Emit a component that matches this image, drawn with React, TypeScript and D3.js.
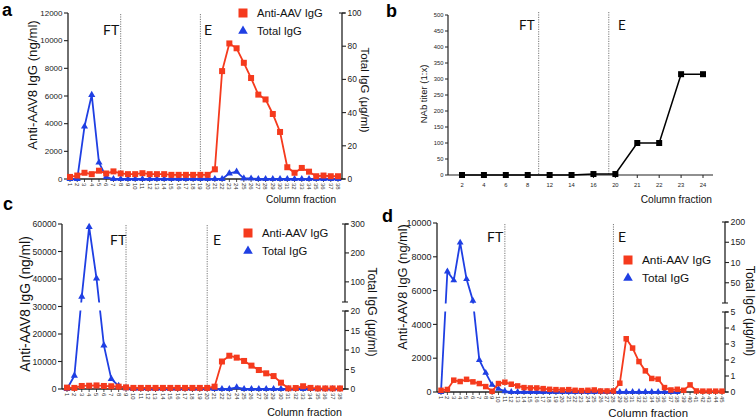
import React from "react";
import * as d3 from "d3";

// ---------- DATA ----------
// Panel a (fractions 1..38)
const antiA = [150, 250, 450, 350, 600, 400, 550, 400, 350, 350, 420, 350, 350, 350, 300, 300, 300, 300, 300, 300,
  700, 7800, 9800, 9450, 8400, 7300, 6100, 5750, 4700, 3400, 850, 450, 800, 530, 200, 250, 200, 200];
const totalA = [0, 0, 31.6, 50.7, 9.9, 1.2, 0, 0, 0, 0, 0, 0, 0, 0, 0, 0, 0, 0, 0, 0,
  0, 0, 3.4, 4.4, 0.4, 0.3, 0, 0, 0, 0, 0, 0, 0, 0, 0, 0, 0, 0];
const leftTicksA = [0, 2000, 4000, 6000, 8000, 10000, 12000];
const rightTicksA = [0, 20, 40, 60, 80, 100];
const dividersA = [8, 19];

// Panel b
const fractionsB = ["2", "4", "6", "8", "12", "14", "16", "20", "21", "22", "23", "24"];
const nabB = [0, 0, 0, 0, 0, 0, 3, 3, 100, 100, 315, 315];
const ticksB = [0, 50, 100, 150, 200, 250, 300, 350, 400, 450, 500];
const dividersB = [3.5, 6.7];

// Panel c (fractions 1..38)
const antiC = [500, 400, 1100, 1200, 1300, 1100, 1000, 850, 600, 400, 400, 400, 400, 400, 400, 400, 400, 400, 400, 400,
  850, 10000, 12100, 11400, 10200, 8500, 6900, 5700, 4700, 2300, 250, 350, 1000, 400, 200, 200, 200, 200];
const totalC = [0, 3.4, 49, 290, 112, 11.2, 2.6, 0.8, 0.2, 0, 0, 0, 0, 0, 0, 0, 0, 0, 0, 0,
  0, 0, 0, 0.4, 0, 0, 0, 0, 0, 0, 0, 0, 0, 0, 0, 0, 0, 0];
const leftTicksC = [0, 10000, 20000, 30000, 40000, 50000, 60000];
const rightTicksC = [0, 5, 10, 15, 20, 100, 200, 300];
const rightLabelsC = ["0", "5", "10", "15", "20", "100", "200", "300"];
const dividersC = [9, 20];

// Panel d (fractions 1..45, total IgG 1..38)
const antiD = [100, 150, 700, 620, 750, 600, 500, 320, 40, 500,
  580, 460, 360, 260, 240, 240, 200, 160, 140, 120,
  140, 100, 80, 100, 120, 60, 60, 60, 520, 3150,
  2600, 1800, 1250, 800, 760, 260, 120, 160, 100, 420,
  60, 50, 50, 50, 50];
const totalD = [0, 78, 56, 149, 59, 5.5, 2, 1.2, 0.45, 0.2, 0.05, 0, 0, 0, 0, 0, 0, 0, 0, 0,
  0, 0, 0, 0, 0, 0, 0, 0, 0, 0, 0, 0, 0, 0, 0, 0, 0, 0];
const leftTicksD = [0, 2000, 4000, 6000, 8000, 10000];
const rightTicksD = [0, 1, 2, 3, 4, 5, 50, 100, 150, 200];
const rightLabelsD = ["0", "1", "2", "3", "4", "5", "50", "10", "150", "200"];
const dividersD = [11, 28];

// ---------- STYLE ----------
const RED = "#f53a1d";
const BLUE = "#1f3fe3";
const AX = "#222";
const FONT = "'Liberation Sans', Arial, sans-serif";
const FT_FONT = "Lato, 'Open Sans', sans-serif";

type Cfg = {
  id: string;
  letter: string;
  letterPos: [number, number];
  left: number; right: number; top: number; bottom: number;
  xFirst: number; xLast: number;
  anti: number[]; total: number[];
  leftTicks: number[]; leftFont: number;
  rightDomain: number[]; rightRange: number[];
  rightTicks: number[]; rightLabels: string[]; rightFont: number;
  segments: [number, number][];
  gap?: [number, number];
  dividers: number[];
  ftX: number; eX: number; labelY: number;
  legX: number; legY: number; legFont: number;
  yLabelX: number; yLabelY: number; yLabelFont: number;
  rLabelX: number; rLabelY: number; rLabelFont: number;
  cfX: number; cfY: number; cfFont: number;
  sq: number; tri: number;
};

function DualPanel({ c }: { c: Cfg }) {
  const n = c.anti.length;
  const x = d3.scaleLinear().domain([1, n]).range([c.xFirst, c.xLast]);
  const yL = d3.scaleLinear().domain([0, c.leftTicks[c.leftTicks.length - 1]]).range([c.bottom, c.top]);
  const yR = d3.scaleLinear().domain(c.rightDomain).range(c.rightRange);
  const lineR = d3.line<number>().x((_, i) => x(i + 1)).y((d) => yL(d));
  const lineB = d3.line<number>().x((_, i) => x(i + 1)).y((d) => yR(d));
  const triPath = d3.symbol(d3.symbolTriangle, c.tri)() as string;
  const legTri = d3.symbol(d3.symbolTriangle, 40)() as string;
  const fr = d3.range(1, n + 1);
  const clipId = `clip-${c.id}`;
  return (
    <g>
      <defs>
        <clipPath id={clipId}>
          {c.gap ? (
            <>
              <rect x={0} y={0} width={756} height={c.gap[0]} />
              <rect x={0} y={c.gap[1]} width={756} height={419 - c.gap[1]} />
            </>
          ) : (
            <rect x={0} y={0} width={756} height={419} />
          )}
        </clipPath>
      </defs>
      <text x={c.letterPos[0]} y={c.letterPos[1]} fontFamily={FONT} fontWeight="bold" fontSize={18} fill="#000">{c.letter}</text>
      {/* dividers */}
      {c.dividers.map((d, i) => (
        <line key={i} x1={x(d)} x2={x(d)} y1={c.top + 1} y2={c.bottom} stroke="#555" strokeWidth={0.8} strokeDasharray="1.2 1.2" />
      ))}
      <text x={c.ftX} y={c.labelY} fontFamily={FT_FONT} fontSize={14} fill="#111">FT</text>
      <text x={c.eX} y={c.labelY} fontFamily={FT_FONT} fontSize={14} fill="#111">E</text>
      {/* left axis */}
      <line x1={c.left} x2={c.left} y1={c.top} y2={c.bottom} stroke={AX} strokeWidth={1.3} />
      {c.leftTicks.map((t) => (
        <g key={t}>
          <line x1={c.left - 4} x2={c.left} y1={yL(t)} y2={yL(t)} stroke={AX} strokeWidth={1.1} />
          <text x={c.left - 5.5} y={yL(t)} dy="0.35em" textAnchor="end" fontFamily={FONT} fontSize={c.leftFont} fill="#222">{t}</text>
        </g>
      ))}
      {/* right axis */}
      {c.segments.map((s, i) => (
        <g key={i}>
          <line x1={c.right} x2={c.right} y1={s[0]} y2={s[1]} stroke={AX} strokeWidth={1.3} />
          <line x1={c.right - 3} x2={c.right + 3} y1={s[0]} y2={s[0]} stroke={AX} strokeWidth={1.1} />
          <line x1={c.right - 3} x2={c.right + 3} y1={s[1]} y2={s[1]} stroke={AX} strokeWidth={1.1} />
        </g>
      ))}
      {c.rightTicks.map((t, i) => (
        <g key={i}>
          <line x1={c.right} x2={c.right + 4} y1={yR(t)} y2={yR(t)} stroke={AX} strokeWidth={1.1} />
          <text x={c.right + 5.5} y={yR(t)} dy="0.35em" fontFamily={FONT} fontSize={c.rightFont} fill="#222">{c.rightLabels[i]}</text>
        </g>
      ))}
      {/* x axis */}
      <line x1={c.left} x2={c.right} y1={c.bottom} y2={c.bottom} stroke={AX} strokeWidth={1.3} />
      {fr.map((f) => (
        <g key={f}>
          <line x1={x(f)} x2={x(f)} y1={c.bottom} y2={c.bottom + 3} stroke={AX} strokeWidth={0.8} />
          <text transform={`translate(${x(f)},${c.bottom + 4}) rotate(90)`} dy="0.35em" fontFamily={FONT} fontSize={6} fill="#333">{f}</text>
        </g>
      ))}
      {/* total IgG (blue) */}
      <path d={lineB(c.total) as string} fill="none" stroke={BLUE} strokeWidth={1.8} clipPath={`url(#${clipId})`} />
      {c.total.map((v, i) => (
        <path key={i} d={triPath} transform={`translate(${x(i + 1)},${yR(v)})`} fill={BLUE} />
      ))}
      {/* anti-AAV IgG (red) */}
      <path d={lineR(c.anti) as string} fill="none" stroke={RED} strokeWidth={1.8} />
      {c.anti.map((v, i) => (
        <rect key={i} x={x(i + 1) - c.sq / 2} y={yL(v) - c.sq / 2} width={c.sq} height={c.sq} fill={RED} />
      ))}
      {/* legend */}
      <rect x={c.legX - 4.5} y={c.legY - 4.5} width={9} height={9} fill={RED} />
      <text x={c.legX + 14} y={c.legY} dy="0.36em" fontFamily={FONT} fontSize={c.legFont} fill="#111">Anti-AAV IgG</text>
      <path d={legTri} transform={`translate(${c.legX},${c.legY + 18})`} fill={BLUE} />
      <text x={c.legX + 14} y={c.legY + 18} dy="0.36em" fontFamily={FONT} fontSize={c.legFont} fill="#111">Total IgG</text>
      {/* axis titles */}
      <text transform={`translate(${c.yLabelX},${c.yLabelY}) rotate(-90)`} textAnchor="middle" fontFamily={FONT} fontSize={c.yLabelFont} fill="#111">Anti-AAV8 IgG (ng/ml)</text>
      <text transform={`translate(${c.rLabelX},${c.rLabelY}) rotate(90)`} textAnchor="middle" fontFamily={FONT} fontSize={c.rLabelFont} fill="#111">Total IgG (μg/ml)</text>
      <text x={c.cfX} y={c.cfY} textAnchor="end" fontFamily={FONT} fontSize={c.cfFont} fill="#111">Column fraction</text>
    </g>
  );
}

function PanelB() {
  const left = 448, right = 713, top = 15, bottom = 175;
  const x = d3.scalePoint<string>().domain(fractionsB).range([462, 703]);
  const step = x.step();
  const y = d3.scaleLinear().domain([0, 500]).range([bottom, top]);
  const line = d3.line<number>().x((_, i) => x(fractionsB[i]) as number).y((d) => y(d));
  return (
    <g>
      <text x={386} y={17} fontFamily={FONT} fontWeight="bold" fontSize={18} fill="#000">b</text>
      {dividersB.map((d, i) => (
        <line key={i} x1={462 + d * step} x2={462 + d * step} y1={top - 3} y2={bottom} stroke="#555" strokeWidth={0.8} strokeDasharray="1.2 1.2" />
      ))}
      <text x={519} y={30} fontFamily={FT_FONT} fontSize={13.5} fill="#111">FT</text>
      <text x={618} y={30} fontFamily={FT_FONT} fontSize={13.5} fill="#111">E</text>
      <line x1={left} x2={left} y1={top} y2={bottom} stroke={AX} strokeWidth={1.2} />
      {ticksB.map((t) => (
        <g key={t}>
          <line x1={left - 3} x2={left} y1={y(t)} y2={y(t)} stroke={AX} strokeWidth={1} />
          <text x={left - 4.5} y={y(t)} dy="0.35em" textAnchor="end" fontFamily={FONT} fontSize={5.8} fill="#222">{t}</text>
        </g>
      ))}
      <line x1={left} x2={right} y1={bottom} y2={bottom} stroke={AX} strokeWidth={1.2} />
      {fractionsB.map((f) => (
        <g key={f}>
          <line x1={x(f)} x2={x(f)} y1={bottom} y2={bottom + 3} stroke={AX} strokeWidth={1} />
          <text x={x(f)} y={bottom + 11.5} textAnchor="middle" fontFamily={FONT} fontSize={5.8} fill="#222">{f}</text>
        </g>
      ))}
      <path d={line(nabB) as string} fill="none" stroke="#000" strokeWidth={1.5} />
      {nabB.map((v, i) => (
        <rect key={i} x={(x(fractionsB[i]) as number) - 3} y={y(v) - 3} width={6} height={6} fill="#000" />
      ))}
      <text transform={`translate(427,94) rotate(-90)`} textAnchor="middle" fontFamily={FONT} fontSize={9.5} fill="#111">NAb titer (1:x)</text>
      <text x={712} y={203} textAnchor="end" fontFamily={FONT} fontSize={10.2} fill="#111">Column fraction</text>
    </g>
  );
}

const cfgA: Cfg = {
  id: "a", letter: "a", letterPos: [2, 16],
  left: 68, right: 342, top: 13, bottom: 179, xFirst: 70, xLast: 338,
  anti: antiA, total: totalA,
  leftTicks: leftTicksA, leftFont: 8,
  rightDomain: [0, 100], rightRange: [179, 13],
  rightTicks: rightTicksA, rightLabels: rightTicksA.map(String), rightFont: 8.4,
  segments: [[179, 13]],
  dividers: dividersA,
  ftX: 103, eX: 204, labelY: 35,
  legX: 243, legY: 13, legFont: 11.2,
  yLabelX: 37, yLabelY: 85, yLabelFont: 13.2,
  rLabelX: 361, rLabelY: 90, rLabelFont: 11.5,
  cfX: 336, cfY: 203, cfFont: 10,
  sq: 6, tri: 22,
};

const cfgC: Cfg = {
  id: "c", letter: "c", letterPos: [3, 210],
  left: 62, right: 345, top: 224, bottom: 389, xFirst: 67, xLast: 340,
  anti: antiC, total: totalC,
  leftTicks: leftTicksC, leftFont: 8.6,
  rightDomain: [0, 20, 20.0001, 300], rightRange: [389, 311, 305, 224],
  rightTicks: rightTicksC, rightLabels: rightLabelsC, rightFont: 8.6,
  segments: [[389, 311], [302, 224]],
  gap: [302.5, 310.5],
  dividers: dividersC,
  ftX: 110, eX: 213, labelY: 245,
  legX: 248, legY: 233, legFont: 11.3,
  yLabelX: 30, yLabelY: 304, yLabelFont: 13.8,
  rLabelX: 368, rLabelY: 312, rLabelFont: 12,
  cfX: 342, cfY: 416, cfFont: 10.7,
  sq: 6, tri: 22,
};

const cfgD: Cfg = {
  id: "d", letter: "d", letterPos: [382, 222],
  left: 437, right: 725, top: 223, bottom: 392, xFirst: 441, xLast: 722,
  anti: antiD, total: totalD,
  leftTicks: leftTicksD, leftFont: 9,
  rightDomain: [0, 5, 5.0001, 200], rightRange: [392, 312, 301, 222],
  rightTicks: rightTicksD, rightLabels: rightLabelsD, rightFont: 8.8,
  segments: [[392, 312], [303, 222]],
  gap: [303.5, 311.5],
  dividers: dividersD,
  ftX: 487, eX: 618, labelY: 242,
  legX: 628, legY: 260, legFont: 11.8,
  yLabelX: 407, yLabelY: 287, yLabelFont: 12.8,
  rLabelX: 746, rLabelY: 311, rLabelFont: 12.2,
  cfX: 688, cfY: 417, cfFont: 11.4,
  sq: 5.5, tri: 20,
};

export default function App() {
  return (
    <svg width={756} height={419} viewBox="0 0 756 419" style={{ position: "absolute", left: 0, top: 0, background: "#fff" }}>
      <rect width={756} height={419} fill="#fff" />
      <DualPanel c={cfgA} />
      <PanelB />
      <DualPanel c={cfgC} />
      <DualPanel c={cfgD} />
    </svg>
  );
}
